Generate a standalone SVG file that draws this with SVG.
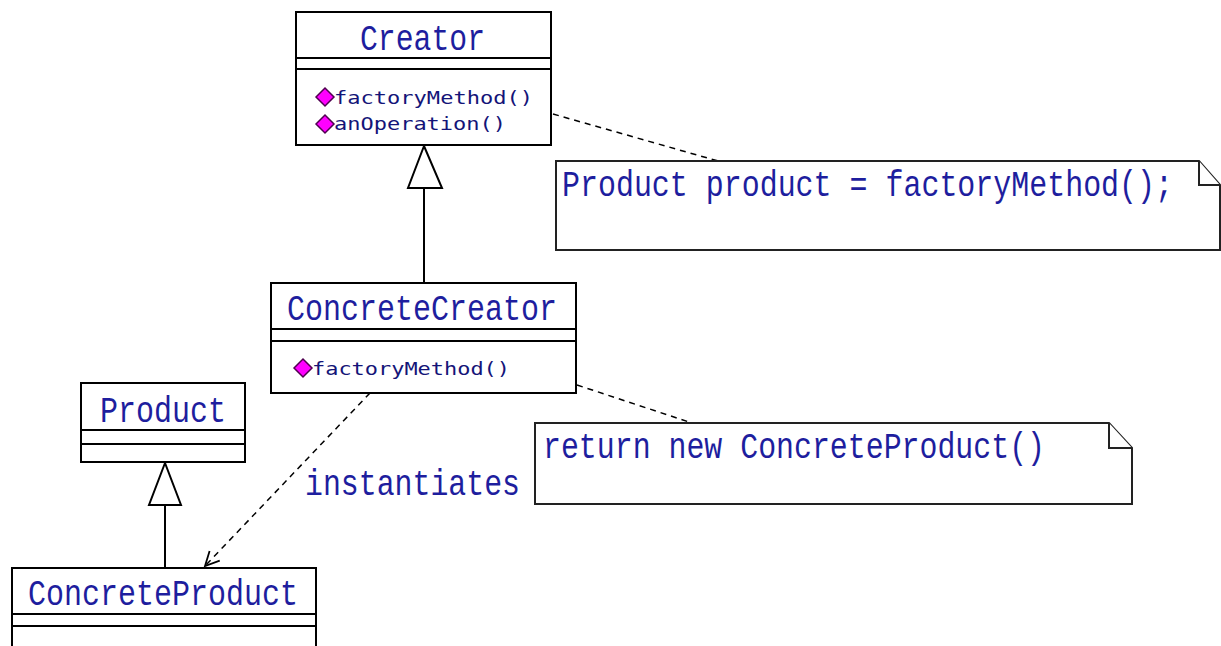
<svg xmlns="http://www.w3.org/2000/svg" width="1221" height="646" viewBox="0 0 1221 646">
<defs>
<style>
.box{fill:#fff;stroke:#000;stroke-width:2}
.sep{stroke:#000;stroke-width:2}
.name{font-family:"Liberation Mono","DejaVu Sans Mono",monospace;font-size:36px;fill:#1e1e9e}
.op{font-family:"DejaVu Sans Mono","Liberation Mono",monospace;font-size:17px;fill:#141478}
.note{fill:#fff;stroke:#222;stroke-width:2}
.dash{fill:none;stroke:#000;stroke-width:1.5;stroke-dasharray:6 5}
.gen{fill:none;stroke:#000;stroke-width:2}
.tri{fill:#fff;stroke:#000;stroke-width:2}
.dia{fill:#ff00ff;stroke:#500050;stroke-width:1.5}
</style>
<marker id="open" viewBox="0 0 20 20" refX="18" refY="10" markerWidth="20" markerHeight="20" markerUnits="userSpaceOnUse" orient="auto">
<path d="M4,3 L18,10 L4,17" fill="none" stroke="#000" stroke-width="1.8"/>
</marker>
</defs>

<g id="connectors">
<line class="dash" x1="553" y1="114" x2="718" y2="161"/>
<line class="dash" x1="577" y1="385" x2="692" y2="423"/>
<line class="gen" x1="424" y1="188" x2="424" y2="283"/>
<polygon class="tri" points="424,146 408,188 442,188"/>
<line class="gen" x1="165" y1="505" x2="165" y2="568"/>
<polygon class="tri" points="165,463 149,505 181,505"/>
<line class="dash" x1="370" y1="393" x2="205" y2="566" marker-end="url(#open)"/>
<text class="name" x="305" y="495" textLength="215" lengthAdjust="spacingAndGlyphs">instantiates</text>
</g>

<g id="Creator">
<rect class="box" x="296" y="12" width="255" height="133"/>
<line class="sep" x1="296" y1="58" x2="551" y2="58"/>
<line class="sep" x1="296" y1="69" x2="551" y2="69"/>
<text class="name" x="360" y="50" textLength="125" lengthAdjust="spacingAndGlyphs">Creator</text>
<polygon class="dia" points="316,97 325,88 334,97 325,106"/>
<text class="op" x="334" y="104" textLength="199" lengthAdjust="spacingAndGlyphs">factoryMethod()</text>
<polygon class="dia" points="316,124 325,115 334,124 325,133"/>
<text class="op" x="334" y="130" textLength="172" lengthAdjust="spacingAndGlyphs">anOperation()</text>
</g>

<g id="ConcreteCreator">
<rect class="box" x="271" y="283" width="305" height="110"/>
<line class="sep" x1="271" y1="329" x2="576" y2="329"/>
<line class="sep" x1="271" y1="341" x2="576" y2="341"/>
<text class="name" x="287" y="320" textLength="270" lengthAdjust="spacingAndGlyphs">ConcreteCreator</text>
<polygon class="dia" points="294,368 303,359 312,368 303,377"/>
<text class="op" x="312" y="375" textLength="198" lengthAdjust="spacingAndGlyphs">factoryMethod()</text>
</g>

<g id="Product">
<rect class="box" x="81" y="383" width="164" height="79"/>
<line class="sep" x1="81" y1="430" x2="245" y2="430"/>
<line class="sep" x1="81" y1="444" x2="245" y2="444"/>
<text class="name" x="100" y="422" textLength="126" lengthAdjust="spacingAndGlyphs">Product</text>
</g>

<g id="ConcreteProduct">
<rect class="box" x="12" y="568" width="304" height="90"/>
<line class="sep" x1="12" y1="614" x2="316" y2="614"/>
<line class="sep" x1="12" y1="626" x2="316" y2="626"/>
<text class="name" x="28" y="605" textLength="270" lengthAdjust="spacingAndGlyphs">ConcreteProduct</text>
</g>

<g id="note1">
<path class="note" d="M556,161 L1199,161 L1220,185 L1220,250 L556,250 Z"/>
<path class="note" d="M1199,161 L1199,185 L1220,185"/>
<text class="name" x="562" y="196" textLength="611" lengthAdjust="spacingAndGlyphs">Product product = factoryMethod();</text>
</g>

<g id="note2">
<path class="note" d="M535,423 L1109,423 L1132,448 L1132,504 L535,504 Z"/>
<path class="note" d="M1109,423 L1109,448 L1132,448"/>
<text class="name" x="543" y="458" textLength="502" lengthAdjust="spacingAndGlyphs">return new ConcreteProduct()</text>
</g>
</svg>
